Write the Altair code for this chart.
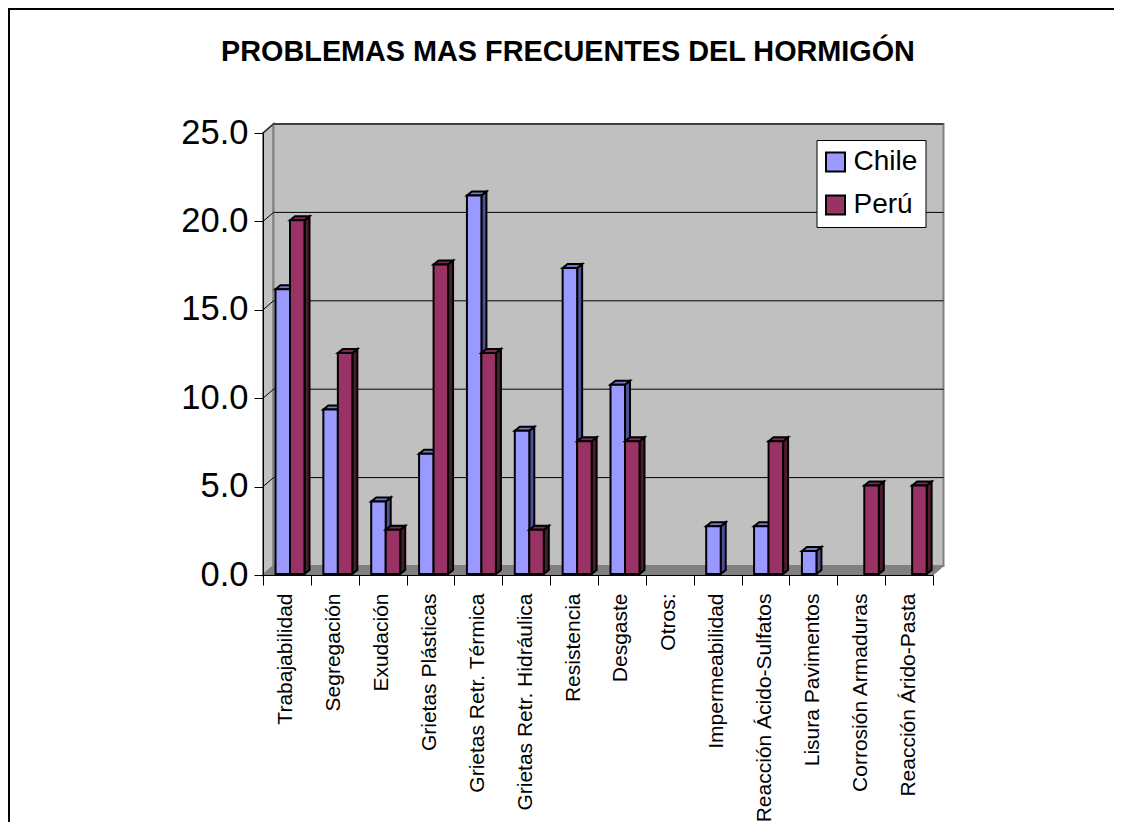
import altair as alt
import pandas as pd

categorias = ["Trabajabilidad", "Segregación", "Exudación", "Grietas Plásticas",
              "Grietas Retr. Térmica", "Grietas Retr. Hidráulica", "Resistencia", "Desgaste",
              "Otros:", "Impermeabilidad", "Reacción Ácido-Sulfatos", "Lisura Pavimentos",
              "Corrosión Armaduras", "Reacción Árido-Pasta"]
chile = [16.1, 9.3, 4.1, 6.8, 21.4, 8.1, 17.3, 10.7, 0, 2.7, 2.7, 1.3, 0, 0]
peru = [20.0, 12.5, 2.5, 17.5, 12.5, 2.5, 7.5, 7.5, 0, 0, 7.5, 0, 5.0, 5.0]
ticks_y = [0, 5, 10, 15, 20, 25]
titulo = "PROBLEMAS MAS FRECUENTES DEL HORMIGÓN"

W, H = 670, 442
PX, PY = W / 14, H / 25
WALL_X, WALL_Y = 10.5 / PX, 9 / PY      # depth of the plot box
DX, DY = 5 / PX, 4 / PY                 # depth of a bar
START, BW, LIFT = 12.5 / PX, 14.5 / PX, 0.06

XQ = alt.Scale(domain=[0, 14], nice=False, zero=False)
YQ = alt.Scale(domain=[0, 25], nice=False, zero=False)


def bars(values, serie, shift):
    front, side, top = [], [], []
    for i, v in enumerate(values):
        if not v:
            continue
        x0 = i + START + shift * BW
        x1 = x0 + BW
        t = v + LIFT
        front.append(dict(x=x0, x2=x1, y=t, y2=LIFT, serie=serie))
        side += [dict(id=i, x=x1, y=t, y2=LIFT), dict(id=i, x=x1 + DX, y=t + DY, y2=LIFT + DY)]
        top += [dict(id=i, x=x0, y=t, y2=t), dict(id=i, x=x0 + DX, y=t + DY, y2=t),
                dict(id=i, x=x1, y=t + DY, y2=t), dict(id=i, x=x1 + DX, y=t + DY, y2=t + DY)]
    return pd.DataFrame(front), pd.DataFrame(side), pd.DataFrame(top)


def poly(df, fill, stroke="black", sw=2):
    return alt.Chart(df).mark_area(fill=fill, stroke=stroke, strokeWidth=sw, opacity=1, strokeJoin="miter").encode(
        x=alt.X("x:Q", scale=XQ, axis=None),
        y=alt.Y("y:Q", scale=YQ),
        y2="y2:Q",
        detail="id:N",
    )


def front_layer(df):
    return alt.Chart(df).mark_bar(stroke="black", strokeWidth=2, opacity=1).encode(
        x=alt.X("x:Q", scale=XQ, axis=None),
        x2="x2:Q",
        y=alt.Y("y:Q", scale=YQ),
        y2="y2:Q",
        color=alt.Color("serie:N",
                        scale=alt.Scale(domain=["Chile", "Perú"], range=["#9999FF", "#993366"]),
                        legend=alt.Legend(title=None, orient="none", legendX=553.5, legendY=7,
                                          fillColor="white", strokeColor="black", padding=8,
                                          symbolType="square", symbolSize=361, symbolOffset=-3,
                                          symbolStrokeColor="black", symbolStrokeWidth=2,
                                          labelFontSize=28, labelFont="Liberation Sans",
                                          labelColor="black", rowPadding=15, labelOffset=4,
                                          columnPadding=0)),
    )


left_wall = pd.DataFrame([dict(id=0, x=0, y=25, y2=0), dict(id=0, x=WALL_X, y=25 + WALL_Y, y2=WALL_Y)])
back_wall = pd.DataFrame([dict(id=0, x=WALL_X, y=25 + WALL_Y, y2=WALL_Y),
                          dict(id=0, x=14 + WALL_X, y=25 + WALL_Y, y2=WALL_Y)])
floor = pd.DataFrame([dict(id=0, x=0, y=0, y2=0), dict(id=0, x=WALL_X, y=WALL_Y, y2=0),
                      dict(id=0, x=14, y=WALL_Y, y2=0), dict(id=0, x=14 + WALL_X, y=WALL_Y, y2=WALL_Y)])

grid_rows = []
for v in ticks_y[1:]:
    grid_rows += [dict(id=v, x=0, y=v), dict(id=v, x=WALL_X, y=v + WALL_Y), dict(id=v, x=14 + WALL_X, y=v + WALL_Y)]
grid = alt.Chart(pd.DataFrame(grid_rows)).mark_line(color="black", strokeWidth=1).encode(
    x=alt.X("x:Q", scale=XQ, axis=None),
    y=alt.Y("y:Q", scale=YQ),
    detail="id:N",
)

axes = alt.Chart(pd.DataFrame({"cat": categorias, "v": chile})).mark_tick(opacity=0).encode(
    x=alt.X("cat:N", sort=categorias, title=None,
            scale=alt.Scale(paddingInner=0, paddingOuter=0),
            axis=alt.Axis(tickBand="extent", labelAngle=270, labelAlign="right", labelBaseline="middle",
                          labelFontSize=21, labelFont="Liberation Sans", labelColor="black",
                          labelPadding=8, labelLimit=400, tickSize=10, tickColor="black", labelOffset=-1,
                          domainColor="black", grid=False, zindex=1, labelOverlap=False)),
    y=alt.Y("v:Q", scale=YQ, title=None,
            axis=alt.Axis(values=ticks_y, format=".1f", labelFontSize=34.5, labelFont="Liberation Sans",
                          labelColor="black", tickSize=9, tickColor="black", domainColor="black",
                          labelPadding=6, grid=False, zindex=1)),
)

# outer frame of the picture
frame_top = alt.Chart(pd.DataFrame({"a": [0]})).mark_rule(color="black", strokeWidth=2).encode(
    x=alt.value(-255), x2=alt.value(870), y=alt.value(-124))
frame_left = alt.Chart(pd.DataFrame({"a": [0]})).mark_rule(color="black", strokeWidth=2).encode(
    x=alt.value(-254), y=alt.value(-125), y2=alt.value(700))

title_mark = alt.Chart(pd.DataFrame({"t": [titulo]})).mark_text(
    font="Liberation Sans", fontSize=28.8, fontWeight="bold", color="black", align="center", baseline="alphabetic"
).encode(x=alt.value(305), y=alt.value(-72), text="t:N")

layers = [axes, poly(left_wall, "#C0C0C0", "#808080", 2), poly(back_wall, "#C0C0C0", "#808080", 2),
          poly(floor, "#808080", "#808080", 1), grid]

for values, serie, shift, side_c, top_c in [(chile, "Chile", 0, "#50509A", "#7676C4"),
                                            (peru, "Perú", 1, "#4D1A33", "#7A2952")]:
    f, s, t = bars(values, serie, shift)
    layers += [poly(s, side_c), poly(t, top_c), front_layer(f)]

layers += [frame_top, frame_left, title_mark]

chart = alt.layer(*layers).resolve_scale(x="independent").properties(
    width=W, height=H,
    padding={"left": 255, "top": 125, "right": 181, "bottom": 247},
    autosize=alt.AutoSizeParams(type="none"),
    background="white",
).configure_view(stroke=None)

chart.save("out.html", embed_options={"renderer": "svg", "actions": False})
